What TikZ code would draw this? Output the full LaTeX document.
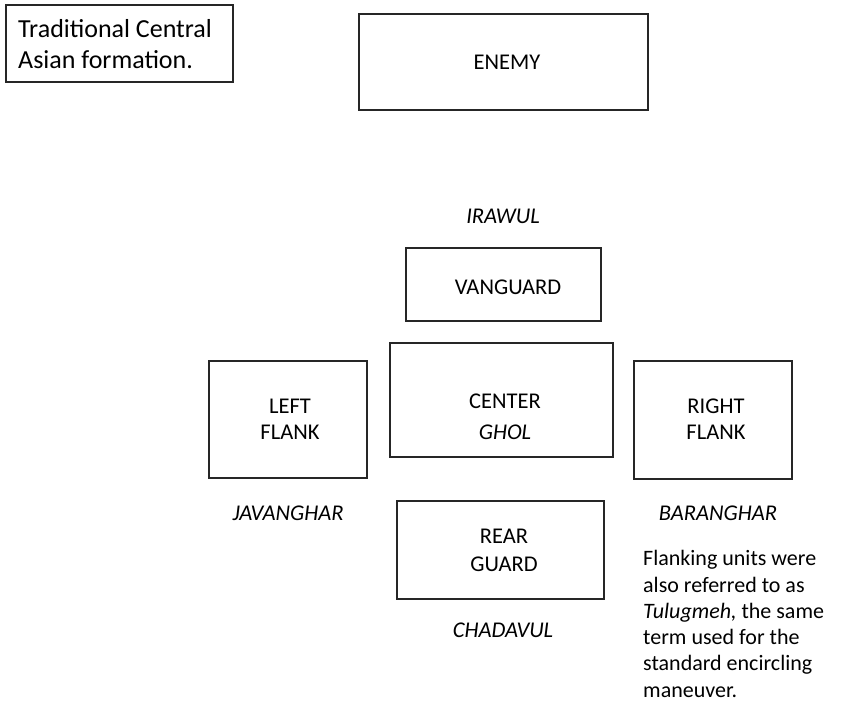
\documentclass[tikz,border=0pt]{standalone}
\usepackage{fontspec}
\setmainfont{Carlito}
\begin{document}
\begin{tikzpicture}[x=1pt,y=-1pt,
  box/.style={draw=black!85, line width=1.3pt, inner sep=0pt},
  lbl/.style={font=\fontsize{22.5}{27}\selectfont, inner sep=0pt, anchor=base},
  ilbl/.style={font=\fontsize{22.5}{27}\selectfont\itshape, inner sep=0pt, anchor=base},
  ttl/.style={font=\fontsize{26}{31}\selectfont, inner sep=0pt, anchor=base west},
  note/.style={font=\fontsize{22}{26.4}\selectfont, inner sep=0pt, anchor=base west}]
\useasboundingbox (0,0) rectangle (846,712);
% boxes
\node[box, line width=1.1pt, minimum width=227pt, minimum height=77pt] (titlebox) at (119.5,43.5) {};
\node[box, line width=1.7pt, minimum width=289pt, minimum height=96pt] (enemy) at (503.5,62) {};
\node[box, minimum width=195pt, minimum height=73pt] (vanguard) at (503.5,284.5) {};
\node[box, minimum width=223pt, minimum height=114pt] (center) at (501.5,400) {};
\node[box, minimum width=158pt, minimum height=117pt] (left) at (288,419.5) {};
\node[box, minimum width=158pt, minimum height=118pt] (right) at (713,420) {};
\node[box, minimum width=207pt, minimum height=98pt] (rear) at (500.5,550) {};
% title
\node[ttl] (title1) at (18,37) {Traditional Central};
\node[ttl] (title2) at (18,68) {Asian formation.};
% labels
\node[lbl] (enemyT) at (507,69) {ENEMY};
\node[ilbl] (irawul) at (503,223) {IRAWUL};
\node[lbl] (vanguardT) at (508,294) {VANGUARD};
\node[lbl] (centerT) at (505,408) {CENTER};
\node[ilbl] (ghol) at (505,439) {GHOL};
\node[lbl] (leftT1) at (290,413) {LEFT};
\node[lbl] (leftT2) at (290,439) {FLANK};
\node[lbl] (rightT1) at (716,413) {RIGHT};
\node[lbl] (rightT2) at (716,439) {FLANK};
\node[ilbl] (javanghar) at (288,520) {JAVANGHAR};
\node[ilbl] (baranghar) at (718,520) {BARANGHAR};
\node[lbl] (rearT1) at (504,543) {REAR};
\node[lbl] (rearT2) at (504,571) {GUARD};
\node[ilbl] (chadavul) at (503,637) {CHADAVUL};
% note
\node[note] (n1) at (643,565) {Flanking units were};
\node[note] (n2) at (643,592) {also referred to as};
\node[note] (n3) at (643,618) {\textit{Tulugmeh,} the same};
\node[note] (n4) at (643,644) {term used for the};
\node[note] (n5) at (643,670) {standard encircling};
\node[note] (n6) at (643,697) {maneuver.};
\end{tikzpicture}
\end{document}
